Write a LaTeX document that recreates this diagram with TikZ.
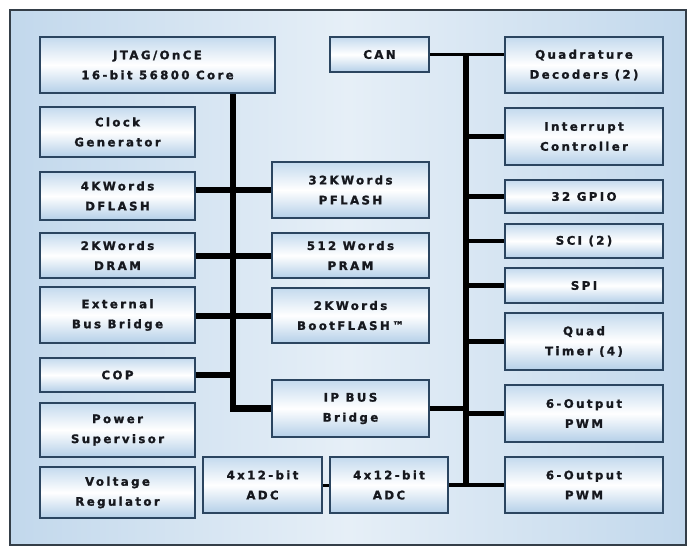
\documentclass[tikz,border=0pt]{standalone}
\usepackage{fontspec}
\setmainfont{DejaVu Sans}
\newfontfamily\blkfont{DejaVu Sans}[LetterSpace=20, BoldFeatures={FakeBold=1.3}]
\usepackage{tikz}
\usetikzlibrary{calc}
\definecolor{blkline}{HTML}{2B4560}
\definecolor{blktop}{HTML}{C4DAEE}
\definecolor{blkbot}{HTML}{B4CFE8}
\definecolor{blktext}{HTML}{16181E}
\definecolor{frameline}{HTML}{343E48}
\definecolor{frameside}{HTML}{C2D8EC}
\definecolor{framemid}{HTML}{E6EFF7}
\tikzset{
  blk/.style={draw=blkline, line width=1.6pt, top color=blktop, bottom color=blkbot, middle color=white,
    inner sep=0pt, align=center, text=blktext, font=\blkfont\bfseries\fontsize{11.8}{20}\selectfont},
  blk/left/.style={blk, minimum width=155pt},
  blk/mid/.style={blk, minimum width=157pt},
  blk/right/.style={blk, minimum width=158pt},
  bus/.style={line width=6.5pt, line join=miter},
  bus/right/.style={line width=5.5pt},
  stub/.style={line width=6pt},
  stub/right/.style={line width=4.5pt},
  link/.style={line width=3.8pt},
  link/thin/.style={line width=3pt}
}
\begin{document}
\begin{tikzpicture}[x=1pt,y=-1pt, line cap=butt]
\useasboundingbox (0,0) rectangle (691,549);

% Frame
\draw[frameline, line width=2pt, left color=frameside, right color=frameside, middle color=framemid]
  (10,10) rectangle (686,545);

% Left column
\node[blk, minimum width=235pt, minimum height=56pt] (core) at (157.5,65) {JTAG/OnCE\\16-bit 56800 Core};
\node[blk/left, minimum height=50pt] (clk) at (117.5,132) {Clock\\Generator};
\node[blk/left, minimum height=48pt] (dflash) at (117.5,196) {4KWords\\DFLASH};
\node[blk/left, minimum height=45pt] (dram) at (117.5,255.5) {2KWords\\DRAM};
\node[blk/left, minimum height=56pt] (ebb) at (117.5,315) {External\\Bus Bridge};
\node[blk/left, minimum height=34pt] (cop) at (117.5,375) {COP};
\node[blk/left, minimum height=54pt] (pws) at (117.5,430) {Power\\Supervisor};
\node[blk/left, minimum height=51pt] (vreg) at (117.5,492.5) {Voltage\\Regulator};

% Middle column
\node[blk, minimum width=99pt, minimum height=35pt] (can) at (379.5,54.5) {CAN};
\node[blk/mid, minimum height=56pt] (pflash) at (350.5,190) {32KWords\\PFLASH};
\node[blk/mid, minimum height=45pt] (pram) at (350.5,255.5) {512 Words\\PRAM};
\node[blk/mid, minimum height=55pt] (boot) at (350.5,315.5) {2KWords\\BootFLASH™};
\node[blk/mid, minimum height=57pt] (ipbb) at (350.5,408.5) {IP BUS\\Bridge};
\node[blk, minimum width=119pt, minimum height=56pt] (adc1) at (262.5,485) {4x12-bit\\ADC};
\node[blk, minimum width=118pt, minimum height=56pt] (adc2) at (389,485) {4x12-bit\\ADC};

% Right column
\node[blk/right, minimum height=56pt] (qd) at (584,65) {Quadrature\\Decoders (2)};
\node[blk/right, minimum height=57pt] (intc) at (584,136.5) {Interrupt\\Controller};
\node[blk/right, minimum height=33pt] (gpio) at (584,196.5) {32 GPIO};
\node[blk/right, minimum height=34pt] (sci) at (584,241) {SCI (2)};
\node[blk/right, minimum height=35pt] (spi) at (584,285.5) {SPI};
\node[blk/right, minimum height=57pt] (qt) at (584,341.5) {Quad\\Timer (4)};
\node[blk/right, minimum height=57pt] (pwma) at (584,413.5) {6-Output\\PWM};
\node[blk/right, minimum height=56pt] (pwmb) at (584,485) {6-Output\\PWM};

% Core bus
\coordinate (lbus) at (233,0);
\draw[bus] (core.south -| lbus) |- (ipbb.west);
\draw[stub] (pflash.west) -- (pflash.west -| dflash.east);
\draw[stub] (pram.west) -- (pram.west -| dram.east);
\draw[stub] (boot.west) -- (boot.west -| ebb.east);
\draw[stub] (cop.east) -- (cop.east -| lbus);

% Peripheral bus
\coordinate (rbus) at (466,0);
\draw[link] (can.east) -- (can.east -| qd.west);
\draw[bus/right] (can.east -| rbus) -- (pwmb.west -| rbus);
\foreach \n in {intc,gpio,sci,spi,qt,pwma}
  \draw[stub/right] (\n.west -| rbus) -- (\n.west);
\draw[stub/right] (ipbb.east) -- (ipbb.east -| rbus);
\draw[link] (adc2.east) -- (pwmb.west);
\draw[link/thin] (adc1.east) -- (adc2.west);
\end{tikzpicture}
\end{document}
